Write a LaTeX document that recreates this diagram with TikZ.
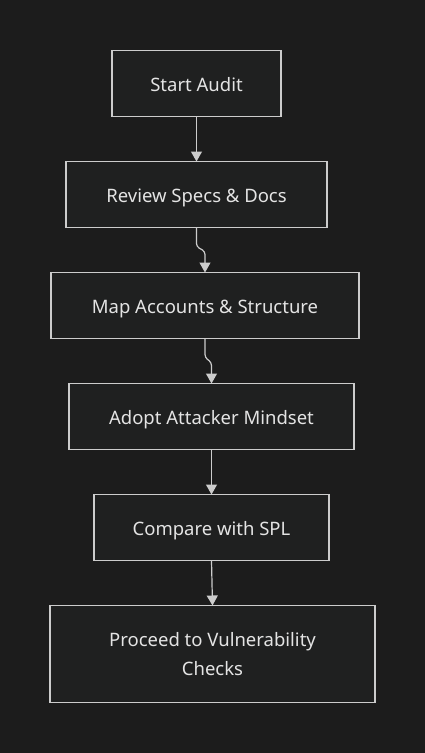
\documentclass[tikz,border=0pt]{standalone}
\usepackage{fontspec}
\setmainfont{Noto Sans}
\usepackage{tikz}
\usetikzlibrary{arrows.meta, positioning}
\definecolor{auditBg}{HTML}{1C1C1C}
\definecolor{auditBox}{HTML}{1F2020}
\definecolor{auditLine}{HTML}{CCCCCC}
\definecolor{auditText}{HTML}{E4E4E4}

\begin{document}
\begin{tikzpicture}[
  x=1pt, y=1pt, font=\fontsize{18.5}{29}\selectfont, node distance=45pt,
  stage/.style={draw=auditLine, line width=1.3pt, fill=auditBox, text=auditText,
                align=center, inner sep=0pt, outer sep=0pt, minimum height=66pt},
  oneline/.style={stage, text height=19pt, text depth=4pt},
  flow/.style={-{Triangle[length=10pt, width=11pt]}, draw=auditLine, line width=1.2pt,
               rounded corners=3pt},
]
\fill[auditBg] (0,0) rectangle (425,-753);
\useasboundingbox (0,0) rectangle (425,-753);

\node[oneline, minimum width=169pt] (start) at (196.5,-83.5) {Start Audit};
\node[oneline, minimum width=261pt, below=of start] (review) {Review Specs \& Docs};
\node[oneline, minimum width=308pt, below=of review, xshift=8.5pt] (map) {Map Accounts \& Structure};
\node[oneline, minimum width=285pt, below=of map, xshift=6.5pt] (mindset) {Adopt Attacker Mindset};
\node[oneline, minimum width=235pt, below=of mindset] (spl) {Compare with SPL};
\node[stage, minimum width=325pt, minimum height=97pt, below=of spl, xshift=1pt] (checks) {Proceed to Vulnerability\\ Checks};

\draw[flow] (start) -- (review);
\draw[flow] (review.south) -- ([yshift=-19pt]review.south) -- ([yshift=21pt]map.north) -- (map.north);
\draw[flow] (map.south) -- ([yshift=-19pt]map.south) -- ([yshift=21pt]mindset.north) -- (mindset.north);
\draw[flow] (mindset) -- (spl);
\draw[flow] (spl.south) -- (checks.north);
\end{tikzpicture}
\end{document}
